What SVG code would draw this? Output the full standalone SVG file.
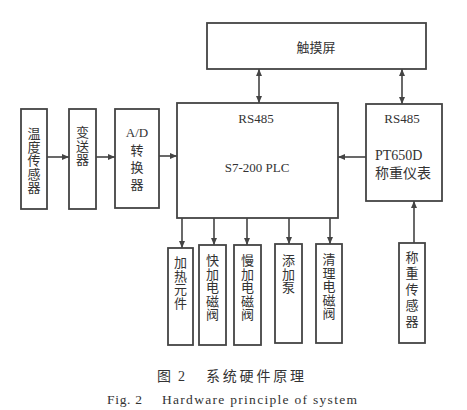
<svg xmlns="http://www.w3.org/2000/svg" width="467" height="410" viewBox="0 0 467 410">
<defs>
<marker id="ah" markerWidth="8" markerHeight="8" refX="7" refY="4" orient="auto-start-reverse" markerUnits="userSpaceOnUse">
<path d="M0,1 L7,4 L0,7 z" fill="#444"/>
</marker>
</defs>
<style>
.box{fill:#fff;stroke:#444;stroke-width:1.8}
.t{font-family:"Liberation Serif","Noto Sans CJK SC",serif;font-size:13px;fill:#333;text-anchor:middle}
.tl{font-family:"Liberation Serif","Noto Sans CJK SC",serif;font-size:14px;fill:#333}
.cap{font-family:"Liberation Serif","Noto Sans CJK SC",serif;fill:#333}
.c{stroke:#444;stroke-width:1.6;fill:none}
</style>
<rect width="467" height="410" fill="#fff"/>
<g id="touch"><rect class="box" x="207" y="23" width="219" height="46"/><text class="t" x="316" y="52" font-size="14">触摸屏</text></g>
<g id="plc"><rect class="box" x="177" y="103" width="161" height="115"/><text class="t" x="256" y="123">RS485</text><text class="t" x="257" y="172">S7-200 PLC</text></g>
<g id="pt650d"><rect class="box" x="366" y="104" width="76" height="97"/><text class="t" x="402" y="123">RS485</text><text class="tl" x="375" y="160" font-size="13">PT650D</text><text class="tl" x="375" y="178">称重仪表</text></g>
<g id="temp"><rect class="box" x="21" y="109" width="26" height="100"/><text class="t" x="34"><tspan x="34" y="138">温</tspan><tspan x="34" y="151.5">度</tspan><tspan x="34" y="165">传</tspan><tspan x="34" y="178.5">感</tspan><tspan x="34" y="192">器</tspan></text></g>
<g id="trans"><rect class="box" x="69" y="109" width="27" height="100"/><text class="t" x="82.5"><tspan x="82.5" y="137">变</tspan><tspan x="82.5" y="150.5">送</tspan><tspan x="82.5" y="164">器</tspan></text></g>
<g id="ad"><rect class="box" x="115" y="109" width="44" height="99"/><text class="t" x="137"><tspan x="137" y="137">A/D</tspan><tspan x="137" y="155">转</tspan><tspan x="137" y="172">换</tspan><tspan x="137" y="189">器</tspan></text></g>
<g id="heat"><rect class="box" x="168" y="248" width="25" height="97"/><text class="t"><tspan x="180.5" y="267">加</tspan><tspan x="180.5" y="280.5">热</tspan><tspan x="180.5" y="294">元</tspan><tspan x="180.5" y="307.5">件</tspan></text></g>
<g id="fast"><rect class="box" x="199" y="245" width="27" height="100"/><text class="t"><tspan x="212.5" y="265">快</tspan><tspan x="212.5" y="278.5">加</tspan><tspan x="212.5" y="292">电</tspan><tspan x="212.5" y="305.5">磁</tspan><tspan x="212.5" y="319">阀</tspan></text></g>
<g id="slow"><rect class="box" x="234" y="245" width="27" height="100"/><text class="t"><tspan x="247.5" y="265">慢</tspan><tspan x="247.5" y="278.5">加</tspan><tspan x="247.5" y="292">电</tspan><tspan x="247.5" y="305.5">磁</tspan><tspan x="247.5" y="319">阀</tspan></text></g>
<g id="pump"><rect class="box" x="275" y="244" width="27" height="99"/><text class="t"><tspan x="288.5" y="265">添</tspan><tspan x="288.5" y="278.5">加</tspan><tspan x="288.5" y="292">泵</tspan></text></g>
<g id="clean"><rect class="box" x="316" y="244" width="26" height="99"/><text class="t"><tspan x="329" y="264">清</tspan><tspan x="329" y="277.5">理</tspan><tspan x="329" y="291">电</tspan><tspan x="329" y="304.5">磁</tspan><tspan x="329" y="318">阀</tspan></text></g>
<g id="wsensor"><rect class="box" x="399" y="243" width="26" height="100"/><text class="t" font-size="14"><tspan x="412" y="262">称</tspan><tspan x="412" y="278">重</tspan><tspan x="412" y="294">传</tspan><tspan x="412" y="310">感</tspan><tspan x="412" y="326">器</tspan></text></g>
<g id="connectors">
<line class="c" x1="47" y1="157" x2="69" y2="157" marker-end="url(#ah)"/>
<line class="c" x1="96" y1="157" x2="115" y2="157" marker-end="url(#ah)"/>
<line class="c" x1="159" y1="156" x2="177" y2="156" marker-end="url(#ah)"/>
<line class="c" x1="366" y1="157" x2="338" y2="157" marker-end="url(#ah)"/>
<line class="c" x1="414" y1="243" x2="414" y2="201" marker-end="url(#ah)"/>
<line class="c" x1="259" y1="69" x2="259" y2="103" stroke-width="2.5" marker-start="url(#ah)" marker-end="url(#ah)"/>
<line class="c" x1="402" y1="69" x2="402" y2="104" stroke-width="2.5" marker-start="url(#ah)" marker-end="url(#ah)"/>
<line class="c" x1="182" y1="218" x2="182" y2="248" marker-end="url(#ah)"/>
<line class="c" x1="214" y1="218" x2="214" y2="245" marker-end="url(#ah)"/>
<line class="c" x1="247" y1="218" x2="247" y2="245" marker-end="url(#ah)"/>
<line class="c" x1="289" y1="218" x2="289" y2="244" marker-end="url(#ah)"/>
<line class="c" x1="330" y1="218" x2="330" y2="244" marker-end="url(#ah)"/>
</g>
<g id="caption">
<text class="cap" x="157" y="381" font-size="14" textLength="28" lengthAdjust="spacing">图 2</text>
<text class="cap" x="206" y="381" font-size="14" textLength="98" lengthAdjust="spacing">系统硬件原理</text>
<text class="cap" x="107" y="404" font-size="13.5" textLength="35" lengthAdjust="spacing">Fig. 2</text>
<text class="cap" x="162" y="404" font-size="13.5" textLength="195" lengthAdjust="spacing">Hardware principle of system</text>
</g>
</svg>
